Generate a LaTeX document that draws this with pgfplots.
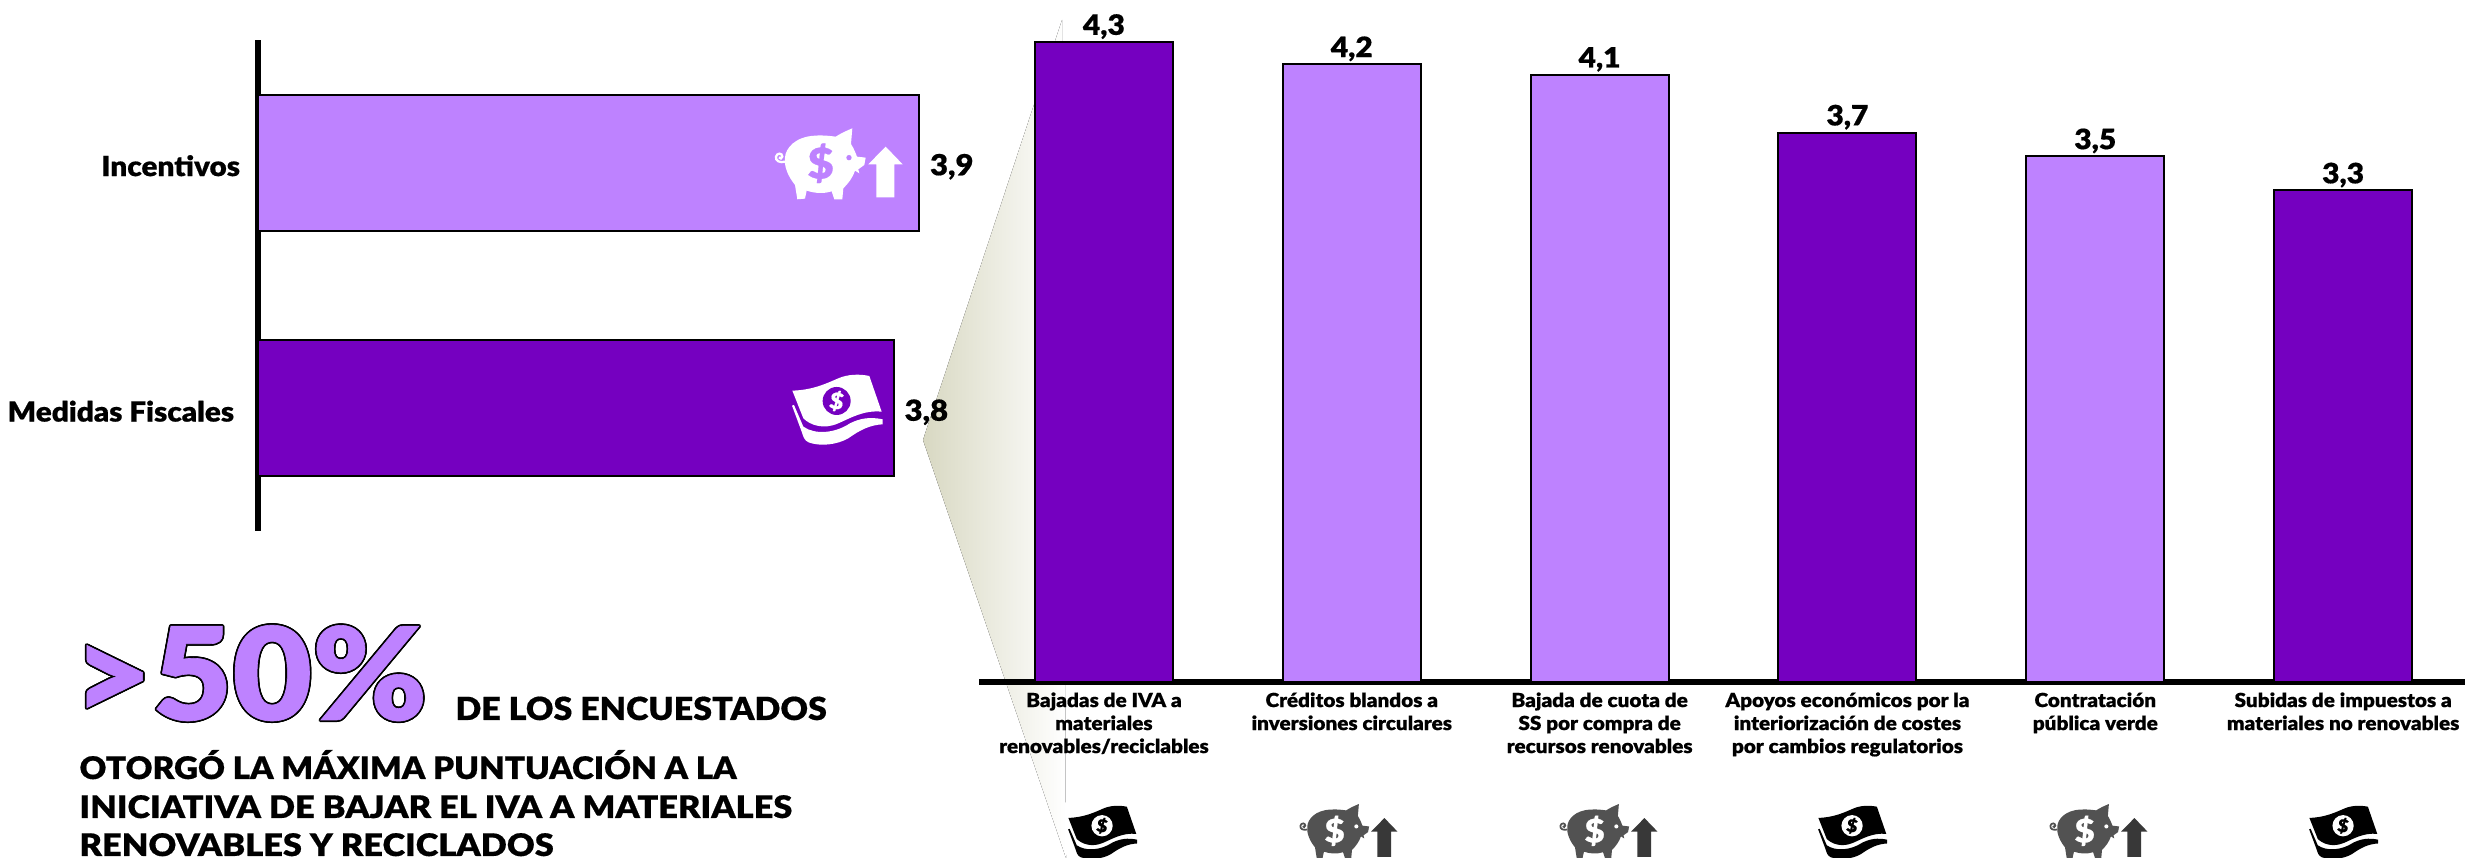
\documentclass[border=0pt]{standalone}
\usepackage{fontspec}
\usepackage{pgfplots}
\usepackage{graphicx}
\usetikzlibrary{calc}
\pgfplotsset{compat=1.18}
\setmainfont{Lato Black}
\newfontfamily\blk[FakeStretch=1.07,FakeBold=0.5]{Lato Black}
\definecolor{lite}{HTML}{BE82FF}
\definecolor{dark}{HTML}{7500C0}
\definecolor{funA}{HTML}{D8D8C2}
\newcommand{\fs}[2]{\fontsize{#1}{#2}\selectfont}
\newcommand{\Pig}[7]{% x0 y0 scale body cut arrow dollarsize
\begin{scope}[shift={(#1,#2)},x=#3*0.1333pt,y=-#3*0.1333pt]
\fill[#4] (60,112) .. controls (62,85) and (90,50) .. (150,47) .. controls (175,45) and (195,48) .. (212,50) .. controls (228,40) and (245,32) .. (262,25) -- (258,72) .. controls (268,88) and (272,100) .. (276,110) -- (302,113) -- (298,135) -- (280,148) -- (283,160) -- (270,152) .. controls (262,175) and (250,190) .. (235,205) -- (232,238) -- (208,238) -- (200,214) .. controls (175,222) and (150,220) .. (125,212) -- (120,236) -- (97,238) -- (90,195) .. controls (70,170) and (56,140) .. (60,112) -- cycle;
\draw[#4,line width=#3*0.9pt] (60,125) .. controls (45,130) and (30,122) .. (33,110) .. controls (36,98) and (52,98) .. (52,110) .. controls (52,116) and (44,118) .. (42,112);
\fill[#5] (252,113) circle[radius=8];
\node[#5,inner sep=0pt] at (167,130) {\blk\fs{#7}{#7}\$};
\fill[#6] (310,133) -- (362,80) -- (413,133) -- (388,133) -- (388,232) -- (334,232) -- (334,133) -- cycle;
\end{scope}}
\newcommand{\Bill}[6]{% x0 y0 scale body cut dollarsize
\begin{scope}[shift={(#1,#2)},x=#3*0.1333pt,y=-#3*0.1333pt]
\fill[#4] (37,77) .. controls (100,75) and (140,55) .. (175,40) .. controls (205,27) and (240,27) .. (268,33) -- (305,140) .. controls (250,135) and (210,160) .. (175,175) .. controls (130,195) and (90,180) .. (70,160) -- cycle;
\fill[#4] (36,122) -- (42,120) -- (70,185) .. controls (105,210) and (165,205) .. (210,175) .. controls (240,160) and (270,155) .. (308,163) -- (308,178) .. controls (270,180) and (240,195) .. (205,220) .. controls (170,240) and (120,245) .. (85,232) .. controls (72,225) and (70,215) .. (65,200) -- cycle;
\fill[#5] (170,108) circle[radius=42];
\node[#4,inner sep=0pt,rotate=-10] at (170,108) {\blk\fs{#6}{#6}\$};
\end{scope}}
\begin{document}
\begin{tikzpicture}[x=0.4pt,y=0.4pt]
\path[use as bounding box] (0,0) rectangle (2465,858);
% funnel
\begin{scope}[shift={(0,858)},y=-0.4pt]
\fill[left color=funA,right color=white] (923,440) -- (1062,20) -- (1066,858) -- cycle;
\end{scope}
% left bars
\begin{axis}[at={(103.2pt,130.8pt)},anchor=south west,scale only axis,width=305.1pt,height=196.4pt,
  xmin=0,xmax=4.5,ymin=-0.5,ymax=1.5,
  axis x line=none,axis y line=left,
  axis line style={line width=2.4pt,-},
  major tick length=0pt,ytick={0,1},
  yticklabels={{Medidas Fiscales\hspace*{2.4pt}},{Incentivos}},
  yticklabel style={font=\blk\fs{11.1}{13},text=black,inner sep=0pt,xshift=-7pt,yshift=-1.2pt},
  xbar,bar width=54.4pt,bar shift=0pt,point meta=x,
  nodes near coords,
  every node near coord/.append style={font=\blk\fs{11.6}{13},black,inner sep=0pt,xshift=4pt,yshift=-1.6pt},
  /pgf/number format/.cd,use comma,fixed,fixed zerofill,precision=1,assume math mode=true,
  /tikz/.cd]
\addplot[draw=black,line width=0.8pt,fill=dark] coordinates {(3.75,0)};
\addplot[draw=black,line width=0.8pt,fill=lite] coordinates {(3.9,1)};
\end{axis}
% right bars
\begin{axis}[at={(391.6pt,70.4pt)},anchor=south west,scale only axis,width=594.4pt,height=267.3pt,
  xmin=-0.504,xmax=5.492,ymin=0,ymax=4.5,
  axis y line=none,axis x line=bottom,
  axis line style={line width=2.4pt,-},
  major tick length=0pt,xtick={0,1,2,3,4,5},
  xticklabels={{Bajadas de IVA a\\materiales\\renovables/reciclables},{Créditos blandos a\\inversiones circulares},{Bajada de cuota de\\SS por compra de\\recursos renovables},{Apoyos económicos por la\\interiorización de costes\\por cambios regulatorios},{Contratación\\pública verde},{Subidas de impuestos a\\materiales no renovables}},
  xticklabel style={font=\blk\fs{7.75}{9.2},text=black,align=center,anchor=north,inner sep=0pt,yshift=-4pt},
  ybar,bar width=55.2pt,bar shift=0pt,point meta=y,
  nodes near coords,
  every node near coord/.append style={font=\blk\fs{11.2}{12},black,inner sep=0pt,yshift=0.8pt},
  /pgf/number format/.cd,use comma,fixed,fixed zerofill,precision=1,assume math mode=true,
  /tikz/.cd]
\addplot[draw=black,line width=0.8pt,fill=dark] coordinates {(0,4.31)(3,3.70)(5,3.31)};
\addplot[draw=black,line width=0.8pt,fill=lite] coordinates {(1,4.16)(2,4.09)(4,3.54)};
\end{axis}
\begin{scope}[shift={(0,858)},y=-0.4pt]
% icons
\Pig{765}{120}{1}{white}{lite}{white}{17}
\Bill{780}{365}{1}{white}{dark}{9}
\Bill{1059}{798.4}{0.76}{black}{white}{7}
\Pig{1292}{797.6}{0.766}{black!68}{white}{black!78}{13}
\Pig{1552}{797.6}{0.766}{black!68}{white}{black!78}{13}
\Bill{1809}{798.4}{0.76}{black}{white}{7}
\Pig{2042}{797.6}{0.766}{black!68}{white}{black!78}{13}
\Bill{2300}{798.4}{0.76}{black}{white}{7}
% big number
\foreach \a in {0,30,...,330}{
 \node[anchor=base west,inner sep=0pt,black] at ($(72,720)+(\a:1.7)$) {\blk\fs{51.5}{54}>50\%};
}
\node[anchor=base west,inner sep=0pt,text=lite] at (72,720) {\blk\fs{51.5}{54}>50\%};
\node[anchor=base west,inner sep=0pt] at (455,720) {\blk\fs{12.7}{15}DE LOS ENCUESTADOS};
\node[anchor=base west,inner sep=0pt] at (79,779) {\blk\fs{12.4}{15}OTORGÓ LA MÁXIMA PUNTUACIÓN A LA};
\node[anchor=base west,inner sep=0pt] at (79,818) {\scalebox{1.035}[1]{\blk\fs{12.4}{15}INICIATIVA DE BAJAR EL IVA A MATERIALES}};
\node[anchor=base west,inner sep=0pt] at (79,856) {\scalebox{1.035}[1]{\blk\fs{12.4}{15}RENOVABLES Y RECICLADOS}};
\end{scope}
\end{tikzpicture}
\end{document}
